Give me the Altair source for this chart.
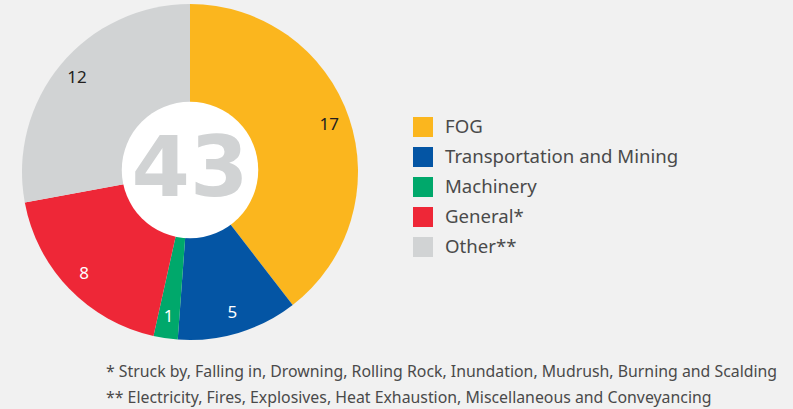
import altair as alt
import pandas as pd

categories = ["FOG", "Transportation and Mining", "Machinery", "General*", "Other**"]
values = [17, 5, 1, 8, 12]
colors = ["#FBB61E", "#0455A4", "#00A86B", "#EE2737", "#D1D3D4"]
label_colors = ["#231f20", "#ffffff", "#ffffff", "#ffffff", "#231f20"]
footnotes = [
    "* Struck by, Falling in, Drowning, Rolling Rock, Inundation, Mudrush, Burning and Scalding",
    "** Electricity, Fires, Explosives, Heat Exhaustion, Miscellaneous and Conveyancing",
]

df = pd.DataFrame({
    "category": categories,
    "value": values,
    "order": list(range(len(categories))),
    "lc": label_colors,
})
total = sum(values)

CX, CY = 190, 172
FONT = "Noto Sans"

base = alt.Chart(df)

theta = alt.Theta("value:Q", stack=True)
order = alt.Order("order:Q", sort="ascending")

arcs = base.mark_arc(x=CX, y=CY, radius=168, radius2=0, strokeWidth=0).encode(
    theta=theta,
    order=order,
    color=alt.Color(
        "category:N",
        scale=alt.Scale(domain=categories, range=colors),
        sort=categories,
        legend=alt.Legend(
            title=None,
            orient="none",
            legendX=413,
            legendY=117,
            symbolType="square",
            symbolSize=400,
            symbolStrokeWidth=0,
            symbolOpacity=1,
            labelFont=FONT,
            labelFontSize=18.6,
            labelColor="#4a4a4a",
            labelOffset=12,
            rowPadding=10,
            labelLimit=400,
        ),
    ),
)

labels = base.mark_text(
    x=CX, y=CY, radius=147, font=FONT, fontSize=17, align="center", baseline="middle"
).encode(
    theta=theta,
    order=order,
    text=alt.Text("value:Q"),
    color=alt.Color("lc:N", scale=None),
)

hole = alt.Chart(pd.DataFrame({"total": [total]})).mark_circle(
    color="white", opacity=1, size=3.14159 * 77 * 77
).encode(x=alt.value(CX), y=alt.value(170))

center = alt.Chart(pd.DataFrame({"total": [total]})).mark_text(
    font="DejaVu Sans", fontSize=84, fontWeight="bold", color="#d1d3d4",
    align="center", baseline="middle"
).encode(x=alt.value(CX), y=alt.value(171), text="total:Q")

fn1 = alt.Chart(pd.DataFrame({"t": [footnotes[0]]})).mark_text(
    font=FONT, fontSize=15.85, color="#4a4a4a", align="left", baseline="middle"
).encode(x=alt.value(106), y=alt.value(372), text="t:N")

fn2 = alt.Chart(pd.DataFrame({"t": [footnotes[1]]})).mark_text(
    font=FONT, fontSize=15.85, color="#4a4a4a", align="left", baseline="middle"
).encode(x=alt.value(106), y=alt.value(398), text="t:N")

chart = alt.layer(arcs, labels, hole, center, fn1, fn2).properties(
    width=793, height=409, padding=0,
    autosize=alt.AutoSizeParams(type="none"),
).configure(background="#f1f1f1").configure_view(stroke=None)

chart.save("out.html", embed_options={"renderer": "svg", "actions": False})
